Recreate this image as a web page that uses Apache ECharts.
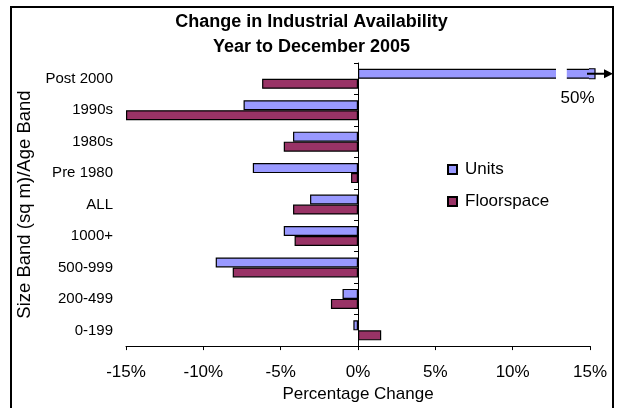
<!DOCTYPE html>
<html>
<head>
<meta charset="utf-8">
<script src="https://cdn.jsdelivr.net/npm/echarts@6/dist/echarts.min.js"></script>
<style>
  html, body { margin: 0; padding: 0; background: #fff; }
  #chart { width: 623px; height: 408px; }
</style>
</head>
<body>
<div id="chart"></div>
<script>
// Size / age bands, listed top to bottom
const bands = ['Post 2000', '1990s', '1980s', 'Pre 1980', 'ALL', '1000+', '500-999', '200-499', '0-199'];
// Percentage change over the year, per band
const units      = [50, -7.4, -4.2, -6.8, -3.1, -4.8, -9.2, -1.0, -0.3];
const floorspace = [-6.2, -15.0, -4.8, -0.45, -4.2, -4.1, -8.1, -1.75, 1.5];
// Value axis range and step
const X_MIN = -15, X_MAX = 15, X_STEP = 5;

const UNITS_COLOR = '#9999FF';
const FLOOR_COLOR = '#993366';
const BAR_W = 10;
const FONT = 'Liberation Sans, Arial, sans-serif';

// Values beyond the axis end get a broken bar with an arrow and their value
const overflow = units
  .map((v, i) => [v, bands[i]])
  .filter(d => d[0] > X_MAX);

function renderOverflow(params, api) {
  const v = api.value(0);
  const cat = api.value(1);
  const end = api.coord([X_MAX, cat]);
  const cy = end[1];
  const yTop = cy - BAR_W;         // Units bar sits in the upper half of the band
  const yBot = cy;
  const barMid = (yTop + yBot) / 2;
  const g0 = api.coord([12.8, cat])[0];
  const g1 = api.coord([13.5, cat])[0];
  const ext = 5;
  const tipX = api.getWidth() - 10;
  return {
    type: 'group',
    children: [
      { type: 'rect', shape: { x: g0, y: yTop - 2, width: g1 - g0, height: BAR_W + 4 },
        style: { fill: '#fff' } },
      { type: 'rect', shape: { x: end[0] - 1, y: yTop, width: ext + 1, height: BAR_W },
        style: { fill: UNITS_COLOR } },
      { type: 'polyline', shape: { points: [[end[0] - 1, yTop], [end[0] + ext, yTop], [end[0] + ext, yBot], [end[0] - 1, yBot]] },
        style: { stroke: '#000', lineWidth: 1.2, fill: null } },
      { type: 'line', shape: { x1: end[0] - 3, y1: barMid, x2: tipX - 6, y2: barMid },
        style: { stroke: '#000', lineWidth: 2 } },
      { type: 'polygon', shape: { points: [[tipX, barMid], [tipX - 9, barMid - 4.5], [tipX - 9, barMid + 4.5]] },
        style: { fill: '#000' } },
      { type: 'text', x: api.coord([14.2, cat])[0], y: cy + 20,
        style: { text: v + '%', fontSize: 17, fontFamily: FONT, fill: '#000', align: 'center', verticalAlign: 'middle' } }
    ]
  };
}

const chart = echarts.init(document.getElementById('chart'), null, { renderer: 'canvas' });

chart.setOption({
  animation: false,
  backgroundColor: '#fff',
  textStyle: { fontFamily: FONT, color: '#000' },
  title: {
    text: 'Change in Industrial Availability\nYear to December 2005',
    left: 'center',
    top: 5,
    textStyle: { fontSize: 18, fontWeight: 'bold', fontFamily: FONT, color: '#000', lineHeight: 25 }
  },
  graphic: [
    { type: 'rect', shape: { x: 11, y: 7, width: 602, height: 420 },
      style: { fill: null, stroke: '#000', lineWidth: 2 }, silent: true, z: 100 }
  ],
  legend: {
    orient: 'vertical',
    left: 442,
    top: 156,
    itemWidth: 9,
    itemHeight: 9,
    itemGap: 15,
    icon: 'rect',
    data: ['Units', 'Floorspace'],
    textStyle: { fontSize: 17, fontFamily: FONT, color: '#000', padding: [0, 0, 0, 3] }
  },
  grid: { left: 126, right: 33, top: 63, bottom: 55, containLabel: false },
  xAxis: {
    type: 'value',
    min: X_MIN, max: X_MAX, interval: X_STEP,
    name: 'Percentage Change',
    nameLocation: 'middle',
    nameGap: 31,
    nameTextStyle: { fontSize: 17, fontFamily: FONT, color: '#000' },
    axisLine: { show: true, onZero: false, lineStyle: { color: '#000', width: 1 } },
    axisTick: { show: true, length: 4, lineStyle: { color: '#000' } },
    axisLabel: { formatter: '{value}%', fontSize: 17, fontFamily: FONT, color: '#000', margin: 18 },
    splitLine: { show: false }
  },
  yAxis: [
    {
      // band labels and axis title on the left
      type: 'category',
      data: bands,
      inverse: true,
      position: 'left',
      name: 'Size Band (sq m)/Age Band',
      nameLocation: 'middle',
      nameGap: 90,
      nameTextStyle: { fontSize: 18.5, fontFamily: FONT, color: '#000' },
      axisLine: { show: false, onZero: false },
      axisTick: { show: false },
      axisLabel: { fontSize: 15, fontFamily: FONT, color: '#000', margin: 13, padding: [0, 0, 4, 0] },
      splitLine: { show: false }
    },
    {
      // axis line with band ticks drawn through zero
      type: 'category',
      data: bands,
      inverse: true,
      position: 'right',
      axisLine: { show: true, onZero: true, lineStyle: { color: '#000', width: 1 } },
      axisTick: { show: true, inside: true, length: 4, lineStyle: { color: '#000' } },
      axisLabel: { show: false },
      splitLine: { show: false }
    }
  ],
  series: [
    {
      name: 'Units',
      type: 'bar',
      yAxisIndex: 0,
      data: units,
      barWidth: BAR_W,
      barGap: '0%',
      clip: true,
      itemStyle: { color: UNITS_COLOR, borderColor: '#000', borderWidth: 1.2 }
    },
    {
      name: 'Floorspace',
      type: 'bar',
      yAxisIndex: 0,
      data: floorspace,
      barWidth: BAR_W,
      barGap: '0%',
      clip: true,
      itemStyle: { color: FLOOR_COLOR, borderColor: '#000', borderWidth: 1.2 }
    },
    {
      name: 'overflow',
      type: 'custom',
      yAxisIndex: 0,
      data: overflow,
      encode: { x: 0, y: 1 },
      renderItem: renderOverflow,
      clip: false,
      z: 5,
      silent: true
    }
  ]
});
</script>
</body>
</html>
